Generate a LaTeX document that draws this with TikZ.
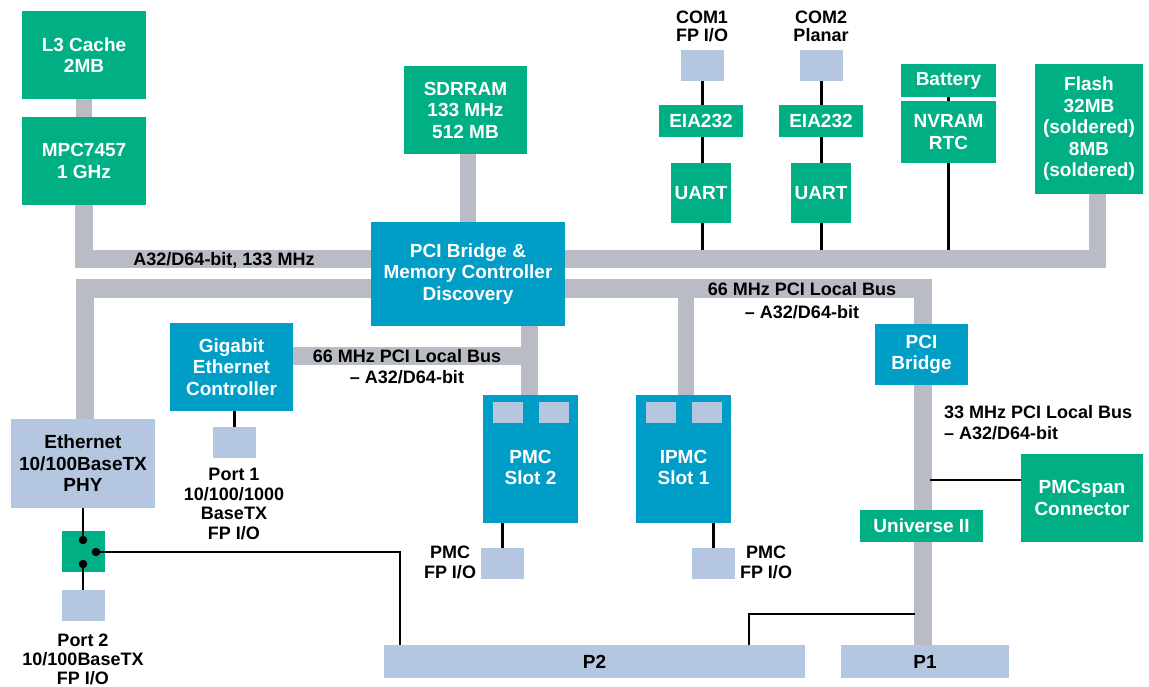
\documentclass[tikz,border=0pt]{standalone}
\usepackage{fontspec}
\setmainfont{Liberation Sans}
\usetikzlibrary{calc,backgrounds}
\definecolor{gcol}{HTML}{00B084}
\definecolor{bcol}{HTML}{009DC7}
\definecolor{lcol}{HTML}{B4C6E0}
\definecolor{busgray}{HTML}{B9BCC4}
\begin{document}
\begin{tikzpicture}[x=1pt,y=-1pt,
  box/.style={rectangle, inner sep=0pt, align=center, text=white, font=\bfseries\fontsize{19}{21.5}\selectfont},
  gbox/.style={box, fill=gcol},
  bbox/.style={box, fill=bcol},
  lbox/.style={box, fill=lcol, text=black},
  lbl/.style={inner sep=0pt, align=center, font=\bfseries\fontsize{18}{20}\selectfont},
  bus/.style={draw=busgray, line width=16.5pt, line join=miter, line cap=butt},
  wire/.style={draw=black, line width=2.8pt},
  dot/.style={circle, fill=black, inner sep=0pt, minimum size=8.5pt},
  port/.style={lbox, minimum width=43pt, minimum height=31pt},
  slot/.style={lbox, minimum width=30pt, minimum height=21pt},
  intext/.style={inner sep=0pt, align=center, text=white, font=\bfseries\fontsize{19}{21.5}\selectfont},
]
\useasboundingbox (0,0) rectangle (1149,687);

% green boxes
\node[gbox, minimum width=124pt, minimum height=88pt] (l3) at (84,55) {L3 Cache\\2MB};
\node[gbox, minimum width=124pt, minimum height=88pt] (mpc) at (84,161) {MPC7457\\1 GHz};
\node[gbox, minimum width=123pt, minimum height=88pt] (sdram) at (465.5,110) {SDRRAM\\133 MHz\\512 MB};
\node[gbox, minimum width=84pt, minimum height=32pt] (eia1) at (701,121) {EIA232};
\node[gbox, minimum width=60pt, minimum height=60pt] (uart1) at (701,193) {UART};
\node[gbox, minimum width=84pt, minimum height=32pt] (eia2) at (821,121) {EIA232};
\node[gbox, minimum width=60pt, minimum height=60pt] (uart2) at (821,193) {UART};
\node[gbox, minimum width=95pt, minimum height=33pt] (battery) at (948.5,80.5) {Battery};
\node[gbox, minimum width=95pt, minimum height=62pt] (nvram) at (948.5,132) {NVRAM\\RTC};
\node[gbox, minimum width=108pt, minimum height=130pt] (flash) at (1089,129) {Flash\\32MB\\(soldered)\\8MB\\(soldered)};
\node[gbox, minimum width=122pt, minimum height=88pt] (pmcspan) at (1082,498) {PMCspan\\Connector};
\node[gbox, minimum width=123pt, minimum height=32pt] (universe) at (921.5,526) {Universe II};
\node[gbox, minimum width=43pt, minimum height=41pt] (switch) at (83.5,551.5) {};

% blue boxes
\node[bbox, minimum width=194pt, minimum height=104pt] (disc) at (468,274) {PCI Bridge \&\\Memory Controller\\Discovery};
\node[bbox, minimum width=123pt, minimum height=88pt] (gig) at (231.5,367) {Gigabit\\Ethernet\\Controller};
\node[bbox, minimum width=93pt, minimum height=61pt] (pcib) at (921.5,354.5) {PCI\\Bridge};
\node[bbox, minimum width=95pt, minimum height=128pt] (pmc2) at (530.5,459) {};
\node[intext] (pmc2t) at (530.5,467.5) {PMC\\Slot 2};
\node[bbox, minimum width=95pt, minimum height=128pt] (ipmc) at (683.5,459) {};
\node[intext] (ipmct) at (683.5,467.5) {IPMC\\Slot 1};
\node[slot] (s2a) at (508,412.5) {};
\node[slot] (s2b) at (554,412.5) {};
\node[slot] (s1a) at (661,412.5) {};
\node[slot] (s1b) at (707,412.5) {};

% light blue boxes
\node[lbox, minimum width=144pt, minimum height=89pt] (eth) at (83,463.5) {Ethernet\\10/100BaseTX\\PHY};
\node[port] (port1) at (234.5,442.5) {};
\node[port] (port2) at (83.5,605.5) {};
\node[port] (com1) at (702.5,65.5) {};
\node[port] (com2) at (821.5,65.5) {};
\node[port] (pmcio2) at (502.5,563.5) {};
\node[port] (pmcio1) at (713.5,563.5) {};
\node[lbox, minimum width=421pt, minimum height=33pt] (p2) at (594.5,661.5) {P2};
\node[lbox, minimum width=168pt, minimum height=33pt] (p1) at (925,661.5) {P1};

% switch dots
\node[dot] (d1) at (83,540) {};
\node[dot] (d2) at (96,552) {};
\node[dot] (d3) at (83,564) {};

% coordinates
\coordinate (tb) at (1097.5,259);
\coordinate (tbtop) at (0,250);
\coordinate (sb) at (84.5,288.5);
\coordinate (rb) at (922.5,288.5);
\coordinate (ipmcup) at (686,395);
\coordinate (p2l) at (400,645);
\coordinate (p2r) at (749,645);
\coordinate (rbl) at (915,614);
\coordinate (spanlink) at (930,480);

% buses
\begin{pgfonlayer}{background}
\draw[bus] (l3.south) -- (mpc.north);
\draw[bus, line width=17.5pt] (mpc.south) |- (tb) -- (tb |- flash.south);
\draw[bus] (disc.north |- sdram.south) -- (disc.north);
\draw[bus, line width=18pt] (eth.north -| sb) |- (rb) -- (rb |- p1.north);
\draw[bus] (ipmcup) -- (ipmcup |- rb);
\draw[bus] (disc.south -| 529.5,0) -- (529.5,395);
\draw[bus, line width=17.5pt] ($(gig.east)+(0,-11)$) -- (537,356);
\draw[bus] ($(pmc2.south)+(19.5,0)$) -- ($(pmc2.south)+(19.5,0)$ |- p2.north);
\draw[bus] ($(ipmc.south)+(-19.5,0)$) -- ($(ipmc.south)+(-19.5,0)$ |- p2.north);
\end{pgfonlayer}

% wires
\draw[wire] (com1.south) -- (com1.south |- eia1.north);
\draw[wire] (eia1.south -| com1.south) -- (uart1.north -| com1.south);
\draw[wire] (uart1.south -| com1.south) -- (com1.south |- tbtop);
\draw[wire] (com2.south) -- (com2.south |- eia2.north);
\draw[wire] (eia2.south -| com2.south) -- (uart2.north -| com2.south);
\draw[wire] (uart2.south -| com2.south) -- (com2.south |- tbtop);
\draw[wire] (battery.south) -- (nvram.north);
\draw[wire] (nvram.south) -- (nvram.south |- tbtop);
\draw[wire] (port1.north |- gig.south) -- (port1.north);
\draw[wire] (d1 |- eth.south) -- (d1);
\draw[wire] (d3) -- (d3 |- port2.north);
\draw[wire, line join=miter] (d2) -| (p2l);
\draw[wire] (pmcio2.north |- pmc2.south) -- (pmcio2.north);
\draw[wire] (pmcio1.north |- ipmc.south) -- (pmcio1.north);
\draw[wire, line join=miter] (p2r) |- (rbl);
\draw[wire] (spanlink) -- (spanlink -| pmcspan.west);

% labels
\node[lbl] (lbus1) at (224,260) {A32/D64-bit, 133 MHz};
\node[lbl, font=\bfseries\fontsize{18}{23}\selectfont] (lbus2) at (802,300.5) {66 MHz PCI Local Bus\\-- A32/D64-bit};
\node[lbl, font=\bfseries\fontsize{18}{21}\selectfont] (lbus3) at (407,366.5) {66 MHz PCI Local Bus\\-- A32/D64-bit};
\node[lbl, font=\bfseries\fontsize{18}{21}\selectfont, align=left, anchor=west] (lbus4) at (944,422.5) {33 MHz PCI Local Bus\\-- A32/D64-bit};
\node[lbl, font=\bfseries\fontsize{18}{18}\selectfont] (lcom1) at (702,26.5) {COM1\\FP I/O};
\node[lbl, font=\bfseries\fontsize{18}{18}\selectfont] (lcom2) at (821,26.5) {COM2\\Planar};
\node[lbl, font=\bfseries\fontsize{18}{19.7}\selectfont] (lport1) at (234,504) {Port 1\\10/100/1000\\BaseTX\\FP I/O};
\node[lbl, font=\bfseries\fontsize{18}{19}\selectfont] (lport2) at (83,659.5) {Port 2\\10/100BaseTX\\FP I/O};
\node[lbl] (lpmc2) at (450,562.5) {PMC\\FP I/O};
\node[lbl] (lpmc1) at (766,562.5) {PMC\\FP I/O};
\end{tikzpicture}
\end{document}
